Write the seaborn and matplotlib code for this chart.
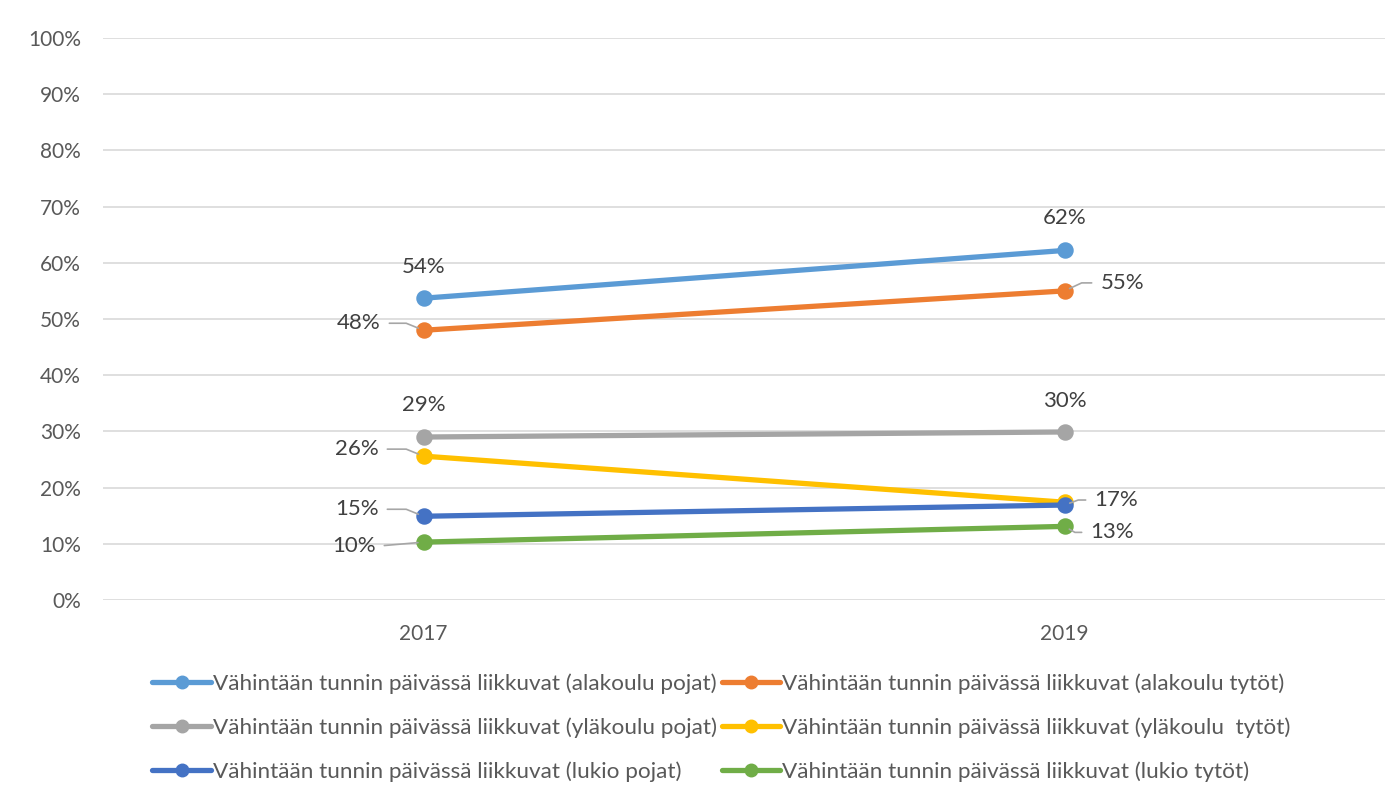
import pandas as pd
import matplotlib
matplotlib.use("Agg")
import matplotlib.pyplot as plt
import seaborn as sns
from matplotlib.lines import Line2D

years = ["2017", "2019"]
series = [
    "Vähintään tunnin päivässä liikkuvat (alakoulu pojat)",
    "Vähintään tunnin päivässä liikkuvat (alakoulu tytöt)",
    "Vähintään tunnin päivässä liikkuvat (yläkoulu pojat)",
    "Vähintään tunnin päivässä liikkuvat (yläkoulu  tytöt)",
    "Vähintään tunnin päivässä liikkuvat (lukio pojat)",
    "Vähintään tunnin päivässä liikkuvat (lukio tytöt)",
]
values_2017 = [53.7, 48.0, 29.0, 25.6, 14.9, 10.3]
values_2019 = [62.2, 55.0, 29.9, 17.4, 16.9, 13.1]
colors = ["#5B9BD5", "#ED7D31", "#A5A5A5", "#FFC000", "#4472C4", "#70AD47"]

# label placement: (series index, year index, dx px, dy px, leader angle or None)
label_pos = [
    (0, 0, 0, 31, None),
    (0, 1, 0, 32, None),
    (1, 0, -43, 7, -22),
    (1, 1, 36, 8, 25),
    (2, 0, 0, 32, None),
    (2, 1, 0, 31, None),
    (3, 0, -45, 7, -22),
    (4, 0, -45, 7, -22),
    (4, 1, 30, 5, 20),
    (5, 0, -48, -4, 5),
    (5, 1, 26, -6, -30),
]

rows = []
for name, a, b in zip(series, values_2017, values_2019):
    rows.append({"year": years[0], "series": name, "value": a})
    rows.append({"year": years[1], "series": name, "value": b})
df = pd.DataFrame(rows)

sns.set_style("white")
plt.rcParams["font.family"] = ["Lato", "DejaVu Sans"]

fig = plt.figure(figsize=(13.97, 8), dpi=100)
ax = fig.add_axes([103 / 1397, 0.25, (1385 - 103) / 1397, (600 - 38) / 800])

sns.pointplot(
    data=df, x="year", y="value", hue="series", hue_order=series,
    palette=colors, order=years, markers="o", markersize=9, linewidth=3.8,
    errorbar=None, dodge=False, ax=ax, legend=False,
)

ax.set_xlim(-0.5, 1.5)
ax.set_ylim(0, 100)
ax.set_yticks(range(0, 101, 10))
ax.set_yticklabels([f"{v}%" for v in range(0, 101, 10)])
ax.yaxis.grid(True, color="#d9d9d9", linewidth=1.2)
ax.set_axisbelow(True)
for s in ax.spines.values():
    s.set_visible(False)
ax.tick_params(axis="both", length=0, labelsize=15, labelcolor="#595959")
ax.tick_params(axis="y", pad=16)
ax.tick_params(axis="x", pad=17)
ax.set_xlabel("")
ax.set_ylabel("")

for si, yi, dx, dy, ang in label_pos:
    val = [values_2017, values_2019][yi][si]
    txt = f"{round(val):.0f}%"
    if ang is None:
        ax.annotate(txt, (yi, val), xytext=(dx, dy), textcoords="offset pixels",
                    ha="center", va="center", fontsize=16, color="#404040")
    else:
        ha = "right" if dx < 0 else "left"
        ax.annotate(txt, (yi, val), xytext=(dx, dy), textcoords="offset pixels",
                    ha=ha, va="center", fontsize=16, color="#404040",
                    arrowprops=dict(arrowstyle="-", color="#a6a6a6", lw=1.2,
                                    shrinkA=4, shrinkB=4,
                                    connectionstyle=f"angle,angleA=0,angleB={ang},rad=0"))

handles = [Line2D([0], [0], color=c, lw=3.8, marker="o", markersize=9) for c in colors]
order = [0, 2, 4, 1, 3, 5]
fig.legend([handles[i] for i in order], [series[i] for i in order], ncol=2,
           loc="upper left", bbox_to_anchor=(141 / 1397, 1 - 662 / 800),
           frameon=False, fontsize=16.2, handlelength=2.6, handletextpad=0.1,
           columnspacing=0.2, labelspacing=1.05, borderpad=0, labelcolor="#595959")

fig.savefig("out.png", dpi=100, facecolor="white")
